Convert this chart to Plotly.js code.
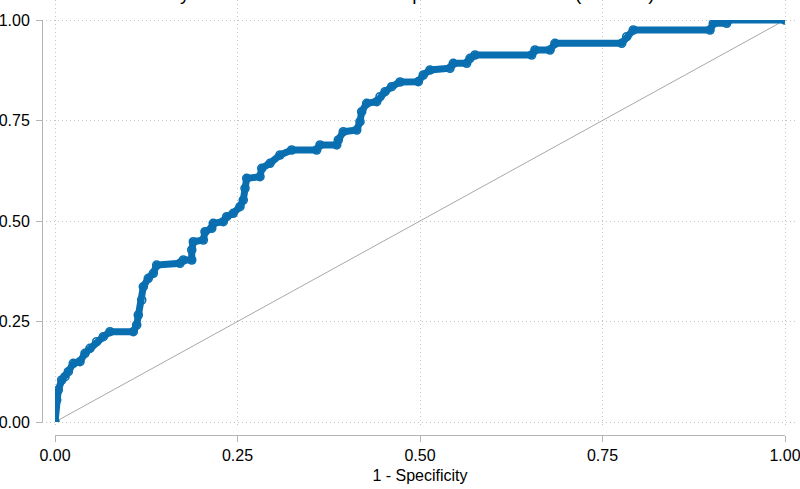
<!DOCTYPE html>
<html>
<head>
<meta charset="utf-8">
<script src="https://cdn.plot.ly/plotly-3.0.1.min.js"></script>
<style>
  html, body { margin: 0; padding: 0; background: #fff; }
  #roc { width: 800px; height: 489px; }
</style>
</head>
<body>
<div id="roc"></div>
<script>
// ROC curve vertices (1 - specificity, sensitivity)
var fpr = [0, 0.0023, 0.0045, 0.0092, 0.0137, 0.0182, 0.0251, 0.0342, 0.0411, 0.0479,
  0.0571, 0.0662, 0.0753, 0.1073, 0.1119, 0.1141, 0.1188, 0.1210, 0.1278, 0.1347,
  0.1393, 0.1712, 0.1758, 0.1873, 0.1873, 0.1895, 0.2032, 0.2055, 0.2147, 0.2168,
  0.2305, 0.2352, 0.2442, 0.2534, 0.2579, 0.2603, 0.2626, 0.2808, 0.2832, 0.2945,
  0.3082, 0.3242, 0.3584, 0.3630, 0.3859, 0.3881, 0.3949, 0.4133, 0.4178, 0.4201,
  0.4270, 0.4407, 0.4452, 0.4521, 0.4612, 0.4726, 0.4977, 0.5045, 0.5137, 0.5411,
  0.5456, 0.5640, 0.5685, 0.5753, 0.6530, 0.6575, 0.6781, 0.6849, 0.7763, 0.7832,
  0.7922, 0.8973, 0.9018, 0.9201, 0.9223, 1];
var tpr = [0, 0.0547, 0.0796, 0.1045, 0.1127, 0.1251, 0.1460, 0.1500, 0.1709, 0.1833,
  0.1998, 0.2122, 0.2246, 0.2246, 0.2413, 0.2662, 0.3035, 0.3366, 0.3575, 0.3699,
  0.3905, 0.3948, 0.4030, 0.4030, 0.4279, 0.4485, 0.4527, 0.4734, 0.4818, 0.4943,
  0.4983, 0.5107, 0.5192, 0.5356, 0.5522, 0.5813, 0.6062, 0.6102, 0.6311, 0.6435,
  0.6642, 0.6766, 0.6766, 0.6891, 0.6891, 0.7015, 0.7221, 0.7264, 0.7470, 0.7719,
  0.7928, 0.7968, 0.8092, 0.8216, 0.8341, 0.8458, 0.8466, 0.8632, 0.8756, 0.8799,
  0.8923, 0.8923, 0.9047, 0.9129, 0.9129, 0.9254, 0.9254, 0.9420, 0.9420, 0.9585,
  0.9751, 0.9751, 0.9918, 0.9918, 1.0, 1];
var diag = [0, 1];
var ticks = [0, 0.25, 0.5, 0.75, 1];
var tickText = ["0.00", "0.25", "0.50", "0.75", "1.00"];

var blue = "#0a6fb0";
var axisGray = "#b4b4b4";
var font = "Liberation Sans, Arial, sans-serif";

var refLine = {
  x: diag, y: diag,
  xaxis: "x2", yaxis: "y2",
  mode: "lines",
  line: { color: "#a8a8a8", width: 1 },
  hoverinfo: "skip",
  showlegend: false
};

var curve = {
  x: fpr, y: tpr,
  xaxis: "x2", yaxis: "y2",
  mode: "lines+markers",
  line: { color: blue, width: 7 },
  marker: { symbol: "circle-open", size: 8, color: blue, line: { width: 1.6, color: blue } },
  showlegend: false
};

// empty trace so the grid subplot (x, y) exists
var gridHolder = {
  x: [], y: [],
  xaxis: "x", yaxis: "y",
  mode: "markers",
  hoverinfo: "skip",
  showlegend: false
};

var layout = {
  width: 800,
  height: 489,
  margin: { l: 0, r: 0, t: 0, b: 0 },
  paper_bgcolor: "#fff",
  plot_bgcolor: "rgba(0,0,0,0)",
  font: { family: font, size: 16, color: "#000" },
  showlegend: false,
  title: {
    text: "Overall accuracy of the model in a test sample of all the cases (N = 500)",
    font: { family: font, size: 19, color: "#000" },
    xref: "container", x: 0.06, xanchor: "left",
    yref: "container", y: 1.004, yanchor: "bottom"
  },
  // grid axes (the plot region)
  xaxis: {
    domain: [0.0525, 0.9975],
    range: [-0.01781, 1.01781],
    tickvals: ticks,
    showticklabels: false,
    ticks: "",
    showgrid: true,
    gridcolor: "#c4c4c4",
    griddash: "1px,3px",
    gridwidth: 1,
    zeroline: false,
    showline: false,
    fixedrange: true
  },
  yaxis: {
    domain: [0.12474, 1],
    range: [-0.0149, 1.0498],
    tickvals: ticks,
    showticklabels: false,
    ticks: "",
    showgrid: true,
    gridcolor: "#c4c4c4",
    griddash: "1px,3px",
    gridwidth: 1,
    zeroline: false,
    showline: false,
    fixedrange: true
  },
  // visible axes, drawn only over the data range
  xaxis2: {
    domain: [0.06875, 0.98125],
    range: [0, 1],
    anchor: "free",
    position: 0.11043,
    tickvals: ticks,
    ticktext: tickText,
    ticks: "outside",
    ticklen: 6,
    tickcolor: axisGray,
    showline: true,
    linecolor: axisGray,
    linewidth: 1,
    showgrid: false,
    zeroline: false,
    ticklabeloverflow: "allow",
    tickfont: { family: font, size: 16, color: "#000" },
    title: { text: "1 - Specificity", font: { family: font, size: 16, color: "#000" }, standoff: 6 },
    fixedrange: true
  },
  yaxis2: {
    domain: [0.13701, 0.95910],
    range: [0, 1],
    anchor: "free",
    position: 0.0525,
    tickvals: ticks,
    ticktext: tickText,
    ticks: "outside",
    ticklen: 6,
    tickcolor: axisGray,
    showline: true,
    linecolor: axisGray,
    linewidth: 1,
    showgrid: false,
    zeroline: false,
    ticklabelstandoff: 3,
    ticklabeloverflow: "allow",
    tickfont: { family: font, size: 16, color: "#000" },
    fixedrange: true
  }
};

Plotly.newPlot("roc", [gridHolder, refLine, curve], layout, { displayModeBar: false, staticPlot: true });
</script>
</body>
</html>
